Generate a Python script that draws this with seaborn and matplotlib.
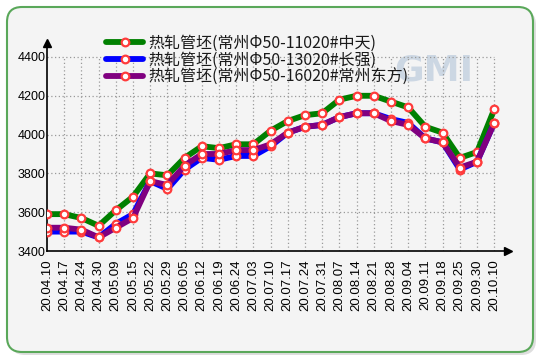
import numpy as np
import pandas as pd
import matplotlib
matplotlib.use("Agg")
import matplotlib.pyplot as plt
import seaborn as sns
from matplotlib.patches import FancyBboxPatch

dates = ["20.04.10", "20.04.17", "20.04.24", "20.04.30", "20.05.09", "20.05.15",
         "20.05.22", "20.05.29", "20.06.05", "20.06.12", "20.06.19", "20.06.24",
         "20.07.03", "20.07.10", "20.07.17", "20.07.24", "20.07.31", "20.08.07",
         "20.08.14", "20.08.21", "20.08.28", "20.09.04", "20.09.11", "20.09.18",
         "20.09.25", "20.09.30", "20.10.10"]
zhongtian = [3590, 3590, 3570, 3530, 3610, 3680, 3800, 3790, 3880, 3940, 3930, 3950,
             3950, 4020, 4070, 4100, 4110, 4180, 4200, 4200, 4170, 4140, 4040, 4010,
             3880, 3910, 4130]
changqiang = [3500, 3500, 3500, 3470, 3540, 3590, 3760, 3720, 3820, 3880, 3870, 3890,
              3890, 3940, 4010, 4040, 4050, 4090, 4110, 4110, 4080, 4060, 3980, 3960,
              3820, 3860, 4060]
dongfang = [3520, 3520, 3510, 3470, 3520, 3570, 3760, 3740, 3840, 3900, 3900, 3920,
            3920, 3950, 4010, 4040, 4050, 4090, 4110, 4110, 4070, 4050, 3980, 3960,
            3830, 3860, 4060]
names = ["热轧管坯(常州Φ50-11020#中天)", "热轧管坯(常州Φ50-13020#长强)",
         "热轧管坯(常州Φ50-16020#常州东方)"]
colors = ["#008000", "#0000ff", "#800080"]
yticks = [3400, 3600, 3800, 4000, 4200, 4400]

sns.set_style("white")
plt.rcParams['font.family'] = ['Noto Sans CJK SC', 'DejaVu Sans']

fig = plt.figure(figsize=(5.45, 3.62), dpi=100)
fig.patch.set_facecolor("white")

# rounded frame with a soft shadow, kept behind the axes
shadow = FancyBboxPatch((0.10, 0.07), 5.26, 3.45, boxstyle="round,pad=0,rounding_size=0.15",
                        transform=fig.dpi_scale_trans, facecolor="#c8c8c8", edgecolor="none",
                        alpha=0.6, zorder=-2)
frame = FancyBboxPatch((0.07, 0.10), 5.26, 3.45, boxstyle="round,pad=0,rounding_size=0.15",
                       transform=fig.dpi_scale_trans, facecolor="#f4f4f4", edgecolor="#5aa85a",
                       linewidth=1.5, zorder=-1)
fig.patches.extend([shadow, frame])

ax = fig.add_axes([47 / 545, 1 - 251 / 362, (508 - 47) / 545, (251 - 43) / 362])
ax.set_facecolor("none")

x = np.arange(len(dates))
df = pd.DataFrame({"x": x, names[0]: zhongtian, names[1]: changqiang, names[2]: dongfang})

# faint watermark logo
ax.text(0.84, 0.87, "GMI", transform=ax.transAxes, fontsize=26, fontweight="bold",
        color="#bccbdd", alpha=0.7, ha="center", va="center", zorder=0,
        fontfamily="DejaVu Sans")

for name, c in zip(names, colors):
    sns.lineplot(data=df, x="x", y=name, ax=ax, color=c, linewidth=4.2, label=name,
                 marker="o", markersize=5.5, markerfacecolor="white",
                 markeredgecolor="#ff3b3b", markeredgewidth=1.6, zorder=3)

ax.set_xlim(0, (508 - 47) / 17.2)
ax.set_ylim(3400, 4472)
ax.set_xlabel("")
ax.set_ylabel("")

# dotted grid limited to the data range
ax.hlines(yticks[1:], 0, len(dates) - 1, colors="#9a9a9a", linestyles=(0, (1, 2)),
          linewidth=0.9, zorder=1)
ax.vlines(x[1:], 3400, 4400, colors="#9a9a9a", linestyles=(0, (1, 2)),
          linewidth=0.9, zorder=1)

for s in ["top", "right"]:
    ax.spines[s].set_visible(False)
for s in ["left", "bottom"]:
    ax.spines[s].set_color("black")
    ax.spines[s].set_linewidth(1.2)
ax.plot(1, 0, ">k", transform=ax.transAxes, clip_on=False, markersize=6)
ax.plot(0, 1, "^k", transform=ax.transAxes, clip_on=False, markersize=6)

ax.set_yticks(yticks)
ax.set_yticklabels([str(v) for v in yticks], fontfamily="Liberation Sans", fontsize=9)
ax.set_xticks(x)
ax.set_xticklabels(dates, rotation=90, fontfamily="Liberation Sans", fontsize=9.5)
ax.tick_params(axis="y", direction="in", length=4, width=1, pad=1, colors="black")
ax.tick_params(axis="x", direction="out", length=4, width=1, pad=2, colors="black")

leg = ax.legend(loc="upper left", bbox_to_anchor=(100 / 545, 1 - 28 / 362),
                bbox_transform=fig.transFigure, frameon=False, fontsize=11.5,
                handlelength=2.3, handletextpad=0.3, labelspacing=0.0, borderaxespad=0)
for t in leg.get_texts():
    t.set_color("#1a1a1a")

fig.savefig("out.png", dpi=100)
